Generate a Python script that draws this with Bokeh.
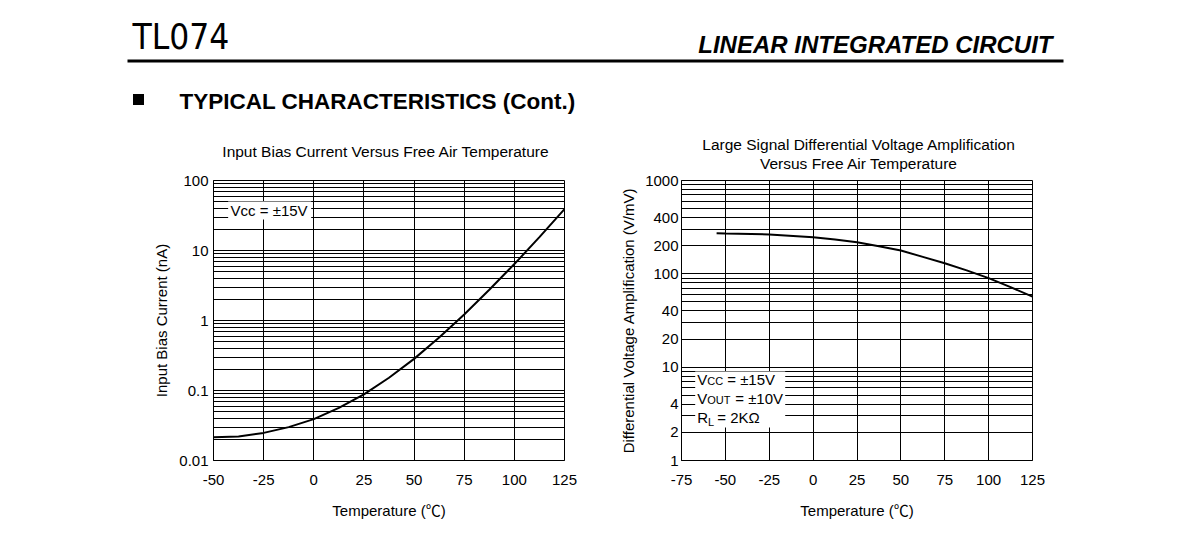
from bokeh.plotting import figure
from bokeh.layouts import column, row
from bokeh.models import Range1d, FixedTicker, Label, BoxAnnotation, CustomJSTickFormatter
from bokeh.core.properties import value
from bokeh.embed import file_html
from bokeh.resources import INLINE

FONT = "Liberation Sans"

# ---------------- data ----------------
# Input bias current vs free-air temperature (Vcc = ±15V)
temp_ib = [-50, -37.5, -25, -12.5, 0, 12.5, 25, 37.5, 50, 62.5, 75, 87.5, 100, 112.5, 125]
ib_na = [0.0215, 0.022, 0.0248, 0.030, 0.039, 0.0565, 0.088, 0.152, 0.283, 0.57, 1.22, 2.75, 6.4, 15.5, 39]
ib_x_ticks = [-50, -25, 0, 25, 50, 75, 100, 125]
ib_x_labels = ["-50", "-25", "0", "25", "50", "75", "100", "125"]
ib_y_ticks = [0.01, 0.1, 1, 10, 100]
ib_y_labels = ["0.01", "0.1", "1", "10", "100"]

# Large signal differential voltage amplification vs free-air temperature
temp_avd = [-55, -50, -25, 0, 12.5, 25, 37.5, 50, 62.5, 75, 87.5, 100, 112.5, 125]
avd = [272, 270, 264, 247, 233, 218, 198, 178, 152, 130, 109, 90, 72, 57]
avd_x_ticks = [-75, -50, -25, 0, 25, 50, 75, 100, 125]
avd_x_labels = ["-75", "-50", "-25", "0", "25", "50", "75", "100", "125"]
avd_y_ticks = [1, 2, 4, 10, 20, 40, 100, 200, 400, 1000]
avd_y_labels = ["1", "2", "4", "10", "20", "40", "100", "200", "400", "1000"]


def log_grid(lo_exp, hi_exp):
    vals = []
    for e in range(lo_exp, hi_exp):
        for m in range(1, 10):
            vals.append(m * 10.0 ** e)
    vals.append(10.0 ** hi_exp)
    return vals


def label_formatter(vals, labs):
    return CustomJSTickFormatter(args=dict(vals=vals, labs=labs), code="""
        for (let i = 0; i < vals.length; i++) {
            if (Math.abs(vals[i] - tick) <= 1e-9 * Math.max(1, Math.abs(vals[i]))) { return labs[i]; }
        }
        return '';
    """)


# ---------------- header (pixel coordinates, y downwards) ----------------
hdr = figure(width=1190, height=172, x_range=Range1d(0, 1190), y_range=Range1d(172, 0),
             output_backend="svg", toolbar_location=None, min_border=0,
             x_axis_location=None, y_axis_location=None)
hdr.grid.visible = False
hdr.outline_line_color = None

hdr.text(x=[132], y=[36], text=["TL074"],
         text_font=value("DejaVu Sans Condensed, Liberation Sans Narrow, Liberation Sans, sans-serif"),
         text_font_size="35px", text_baseline="middle", text_align="left", text_color="black")
hdr.text(x=[1052], y=[43.5], text=["LINEAR INTEGRATED CIRCUIT"], text_font=value(FONT),
         text_font_size="24px", text_font_style="bold italic", text_baseline="middle",
         text_align="right", text_color="black")
hdr.segment(x0=[127], y0=[60.5], x1=[1063], y1=[60.5], line_width=3, line_color="black")
hdr.rect(x=[138], y=[99], width=[11], height=[11], fill_color="black", line_color=None)
hdr.text(x=[179], y=[101], text=["TYPICAL CHARACTERISTICS (Cont.)"], text_font=value(FONT),
         text_font_size="22.5px", text_font_style="bold", text_baseline="middle",
         text_align="left", text_color="black")
hdr.text(x=[385.5], y=[151], text=["Input Bias Current Versus Free Air Temperature"],
         text_font=value(FONT), text_font_size="15.5px", text_baseline="middle",
         text_align="center", text_color="black")
hdr.text(x=[858.5, 858.5], y=[143.5, 162.5],
         text=["Large Signal Differential Voltage Amplification", "Versus Free Air Temperature"],
         text_font=value(FONT), text_font_size="15.5px", text_baseline="middle",
         text_align="center", text_color="black")


def style(p, xticks, xlabels, ygrid_vals, yticks, ylabels, ylab, ystand, ylabstand):
    p.background_fill_color = "white"
    p.border_fill_color = "white"
    p.outline_line_color = "black"
    p.outline_line_width = 1
    p.outline_line_alpha = 1
    for ax in p.axis:
        ax.major_tick_out = 0
        ax.major_tick_in = 0
        ax.minor_tick_out = 0
        ax.minor_tick_in = 0
        ax.axis_line_color = "black"
        ax.major_label_text_font = FONT
        ax.major_label_text_font_size = "15px"
        ax.major_label_text_color = "black"
        ax.axis_label_text_font = FONT + ", Noto Sans CJK SC"
        ax.axis_label_text_font_size = "15px"
        ax.axis_label_text_font_style = "normal"
        ax.axis_label_text_color = "black"
    p.xaxis.ticker = FixedTicker(ticks=xticks)
    p.xaxis.formatter = label_formatter(xticks, xlabels)
    p.xaxis.major_label_standoff = 14
    p.xaxis.axis_label = "Temperature (℃)"
    p.xaxis.axis_label_standoff = 14
    p.yaxis.ticker = FixedTicker(ticks=yticks)
    p.yaxis.formatter = label_formatter(yticks, ylabels)
    p.yaxis.major_label_standoff = ystand
    p.yaxis.axis_label = ylab
    p.yaxis.axis_label_standoff = ylabstand
    p.xgrid.ticker = FixedTicker(ticks=xticks)
    p.ygrid.ticker = FixedTicker(ticks=ygrid_vals)
    for g in (p.xgrid, p.ygrid):
        g.grid_line_color = "black"
        g.grid_line_alpha = 1
        g.grid_line_width = 1


# ---------------- left chart ----------------
pL = figure(width=610, height=369, x_range=Range1d(-50, 125), y_range=Range1d(0.01, 100),
            y_axis_type="log", output_backend="svg", toolbar_location=None,
            min_border_left=213, min_border_right=46, min_border_top=8, min_border_bottom=81)
style(pL, ib_x_ticks, ib_x_labels, log_grid(-2, 2), ib_y_ticks, ib_y_labels,
      "Input Bias Current (nA)", 5, 6)
pL.line(temp_ib, ib_na, line_width=2, line_color="black")
pL.add_layout(BoxAnnotation(left=-42.7, right=-1.3, bottom=27.7, top=50.1,
                            fill_color="white", fill_alpha=1, line_color=None))
pL.add_layout(Label(x=-41.5, y=37.3, text="Vcc = ±15V", text_font=FONT, text_font_size="15px",
                    text_baseline="middle", text_color="black"))

# ---------------- right chart ----------------
pR = figure(width=580, height=369, x_range=Range1d(-75, 125), y_range=Range1d(1, 1000),
            y_axis_type="log", output_backend="svg", toolbar_location=None,
            min_border_left=71, min_border_right=158, min_border_top=8, min_border_bottom=81)
style(pR, avd_x_ticks, avd_x_labels, log_grid(0, 3), avd_y_ticks, avd_y_labels,
      "Differential Voltage Amplification (V/mV)", 3, 5)
pR.line(temp_avd, avd, line_width=2, line_color="black")
pR.add_layout(BoxAnnotation(left=-67.2, right=-15.9, bottom=2.26, top=8.98,
                            fill_color="white", fill_alpha=1, line_color=None))

x0 = -66.05
pieces = [
    (7.38, 0, 0, "V", "15px"), (7.38, 10, -1.4, "CC", "11px"), (7.38, 30, 0, "= ±15V", "15px"),
    (4.61, 0, 0, "V", "15px"), (4.61, 10, -1.4, "OUT", "11px"), (4.61, 38, 0, "= ±10V", "15px"),
    (2.89, 0, 0, "R", "15px"), (2.89, 10.8, -4.5, "L", "11px"), (2.89, 20, 0, "= 2KΩ", "15px"),
]
for yv, xo, yo, txt, fs in pieces:
    pR.add_layout(Label(x=x0, y=yv, x_offset=xo, y_offset=yo, text=txt, text_font=FONT,
                        text_font_size=fs, text_baseline="middle", text_color="black"))

layout = column(hdr, row(pL, pR, spacing=0), spacing=0)
open("out.html", "w").write(file_html(layout, INLINE))
